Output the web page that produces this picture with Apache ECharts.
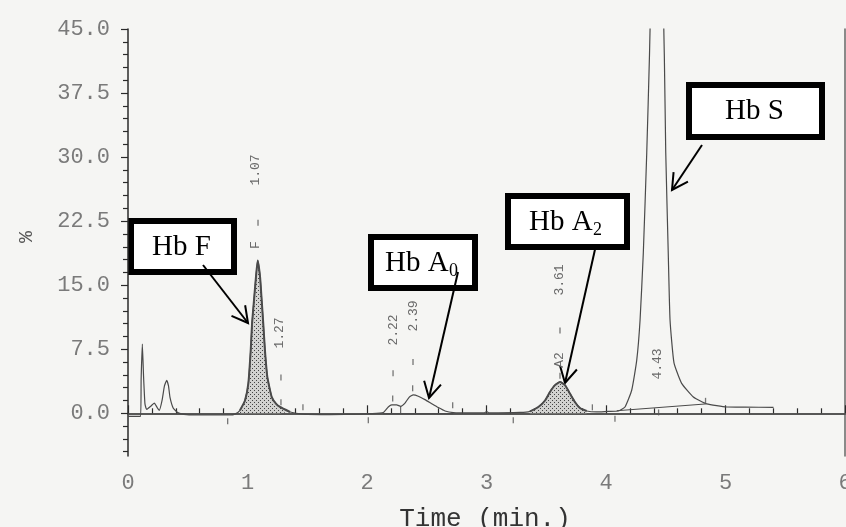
<!DOCTYPE html>
<html>
<head>
<meta charset="utf-8">
<script src="https://cdn.jsdelivr.net/npm/echarts@6/dist/echarts.min.js"></script>
<style>
  html, body { margin: 0; padding: 0; background: #f5f5f3; }
  #chart { width: 846px; height: 527px; }
</style>
</head>
<body>
<div id="chart"></div>
<script>
// 色谱曲线数据
const timeMin = [
  0.000, 0.105, 0.110, 0.120, 0.130, 0.142, 0.156, 0.188, 0.220, 0.243,
  0.262, 0.285, 0.305, 0.324, 0.339, 0.351, 0.379, 0.421, 0.491, 0.603,
  0.854, 0.895, 0.937, 0.979, 1.007, 1.027, 1.038, 1.054, 1.071, 1.085,
  1.105, 1.119, 1.132, 1.146, 1.166, 1.203, 1.240, 1.272, 1.356, 1.467,
  1.690, 1.940, 2.025, 2.136, 2.178, 2.207, 2.248, 2.282, 2.318, 2.354,
  2.387, 2.429, 2.485, 2.541, 2.597, 2.653, 2.722, 2.862, 2.979, 3.002,
  3.021, 3.280, 3.364, 3.434, 3.490, 3.531, 3.573, 3.615, 3.657, 3.699,
  3.741, 3.782, 3.838, 3.922, 4.017, 4.103, 4.159, 4.215, 4.257, 4.285,
  4.312, 4.341, 4.364, 4.427, 4.488, 4.500, 4.521, 4.536, 4.569, 4.633,
  4.731, 4.843, 5.010, 5.163, 5.402
];
const signalPct = [
  -0.35, -0.35, 4.0, 8.1, 4.4, 1.1, 0.45, 0.8, 1.2, 0.7,
  0.35, 1.5, 3.2, 3.87, 3.2, 1.9, 0.6, 0.05, -0.15, -0.2,
  -0.2, -0.1, 0.35, 1.5, 3.5, 7.4, 10.5, 13.2, 16.0, 17.9,
  16.0, 13.2, 10.5, 7.4, 4.25, 1.9, 1.1, 0.74, 0.15, -0.1,
  -0.15, -0.1, -0.04, 0.08, 0.74, 0.98, 0.98, 0.82, 1.2, 1.9,
  2.15, 2.0, 1.6, 1.13, 0.67, 0.27, 0.08, 0.04, 0.05, 0.2,
  0.05, 0.1, 0.23, 0.74, 1.5, 2.5, 3.3, 3.67, 3.3, 2.3,
  1.3, 0.62, 0.27, 0.16, 0.23, 0.27, 0.74, 2.7, 6.2, 10.9,
  18.7, 30.5, 42, 80, 42, 30.5, 18.7, 10.9, 5.9, 3.5,
  1.9, 1.1, 0.74, 0.72, 0.7
];

// 阴影积分峰范围（Hb F, Hb A2）
const shadedRanges = [[0.93, 1.41], [3.36, 3.86]];

// 积分基线
const baselineA0 = [[2.136, -0.05], [2.722, -0.05]];
const dropA0 = [[2.282, -0.05], [2.282, 0.82]];
const baselineS = [[4.09, 0.3], [4.84, 1.1]];

// 积分起止标记
const markTimes = [1.088, 1.28, 1.28, 1.464, 2.218, 2.215, 2.385, 2.382, 2.717, 3.615, 3.615, 3.886, 4.833,
                   0.834, 2.011, 3.224, 4.075, 4.44];
const markValues = [22.3, 4.2, 1.3, 0.7, 4.7, 1.72, 6.0, 2.93, 0.94, 9.7, 4.4, 0.7, 1.46,
                    -0.94, -0.8, -0.8, -0.65, 0.1];

// 保留时间标签
const peakTags = ['1.07', 'F', '1.27', '2.22', '2.39', '3.61', 'A2', '4.43'];
const peakTagTimes = [1.07, 1.07, 1.27, 2.22, 2.39, 3.61, 3.61, 4.43];

// 坐标轴刻度
const yMajorTicks = [0, 7.5, 15, 22.5, 30, 37.5, 45];
const yMinorTicks = [-4.5, -3, -1.5, 1.5, 3, 4.5, 6, 9, 10.5, 12, 13.5, 16.5, 18, 19.5, 21,
                     24, 25.5, 27, 28.5, 31.5, 33, 34.5, 36, 39, 40.5, 42, 43.5];

const points = timeMin.map((t, i) => [t, signalPct[i]]);
const markPoints = markTimes.map((t, i) => [t, markValues[i]]);

// 点状填充图案
const dots = document.createElement('canvas');
dots.width = 4; dots.height = 4;
const dctx = dots.getContext('2d');
dctx.fillStyle = '#d2d2d0';
dctx.fillRect(0, 0, 4, 4);
dctx.fillStyle = '#444';
dctx.fillRect(0, 0, 1, 1);
dctx.fillRect(2, 2, 1, 1);

const monoFont = '"Liberation Mono", "DejaVu Sans Mono", monospace';
const serifFont = '"Liberation Serif", "Times New Roman", serif';
const curveColor = '#4a4a4a';
const gridRect = { left: 128, right: 1, top: 29, bottom: 71, outerBoundsMode: 'none', containLabel: false };

const chart = echarts.init(document.getElementById('chart'));

const shadedSeries = shadedRanges.map(r => ({
  type: 'line',
  xAxisIndex: 0, yAxisIndex: 0,
  data: points.filter(p => p[0] >= r[0] && p[0] <= r[1]),
  showSymbol: false,
  smooth: 0.15,
  lineStyle: { color: '#505050', width: 2 },
  areaStyle: { color: { image: dots, repeat: 'repeat' }, opacity: 1, origin: 'auto' },
  silent: true,
  z: 2
}));

function segment(data) {
  return {
    type: 'line', xAxisIndex: 0, yAxisIndex: 0, data: data,
    showSymbol: false, lineStyle: { color: curveColor, width: 1 }, silent: true, z: 3
  };
}

chart.setOption({
  backgroundColor: '#f5f5f3',
  animation: false,
  grid: [Object.assign({}, gridRect), Object.assign({}, gridRect)],
  xAxis: [
    {
      gridIndex: 0, type: 'value', min: 0, max: 6, interval: 1, position: 'bottom',
      axisLine: { lineStyle: { color: '#2a2a2a', width: 1.5 } },
      axisTick: { inside: true, length: 8, lineStyle: { color: '#2a2a2a', width: 1.2 } },
      minorTick: { show: true, splitNumber: 5, length: 5, lineStyle: { color: '#2a2a2a', width: 1.2 } },
      axisLabel: { color: '#7a7a7a', fontFamily: monoFont, fontSize: 22, margin: 16 },
      splitLine: { show: false }
    },
    {
      gridIndex: 1, type: 'value', min: 0, max: 6, position: 'top',
      axisLine: { lineStyle: { color: '#555', width: 1.5 } },
      axisTick: { show: false }, axisLabel: { show: false }, splitLine: { show: false }
    }
  ],
  yAxis: [
    {
      gridIndex: 0, type: 'value', min: -5, max: 45, position: 'left',
      axisLine: { show: true, lineStyle: { color: '#2a2a2a', width: 1.5 } },
      axisTick: { show: true, length: 7, customValues: yMajorTicks, lineStyle: { color: '#2a2a2a', width: 1.2 } },
      axisLabel: {
        customValues: yMajorTicks, color: '#7a7a7a', fontFamily: monoFont, fontSize: 22, margin: 18,
        formatter: v => v.toFixed(1)
      },
      splitLine: { show: false }
    },
    {
      gridIndex: 1, type: 'value', min: -5, max: 45, position: 'left',
      axisLine: { show: false },
      axisTick: { show: true, length: 5, customValues: yMinorTicks, lineStyle: { color: '#2a2a2a', width: 1.2 } },
      axisLabel: { show: false }, splitLine: { show: false }
    },
    {
      gridIndex: 1, type: 'value', min: -5, max: 45, position: 'right',
      axisLine: { show: true, lineStyle: { color: '#666', width: 1.5 } },
      axisTick: { show: false }, axisLabel: { show: false }, splitLine: { show: false }
    }
  ],
  series: shadedSeries.concat([
    {
      type: 'line',
      xAxisIndex: 0, yAxisIndex: 0,
      data: points,
      showSymbol: false,
      smooth: 0.15,
      lineStyle: { color: curveColor, width: 1.2 },
      silent: true,
      z: 4
    },
    segment(baselineA0),
    segment(dropA0),
    segment(baselineS),
    {
      type: 'scatter',
      xAxisIndex: 0, yAxisIndex: 0,
      data: markPoints,
      symbol: 'rect',
      symbolSize: [1.3, 6],
      itemStyle: { color: '#555' },
      silent: true,
      z: 5
    }
  ])
});

// 标注：箭头、方框、文字
function arrow(x1, y1, x2, y2) {
  const a = Math.atan2(y2 - y1, x2 - x1), len = 18, spread = 0.5;
  return {
    type: 'group',
    children: [
      { type: 'line', shape: { x1: x1, y1: y1, x2: x2, y2: y2 }, style: { stroke: '#000', lineWidth: 2 } },
      {
        type: 'polyline',
        shape: {
          points: [
            [x2 - len * Math.cos(a - spread), y2 - len * Math.sin(a - spread)],
            [x2, y2],
            [x2 - len * Math.cos(a + spread), y2 - len * Math.sin(a + spread)]
          ]
        },
        style: { stroke: '#000', lineWidth: 2, fill: null }
      }
    ]
  };
}

function box(x, y, w, h) {
  return { type: 'rect', shape: { x: x, y: y, width: w, height: h }, style: { fill: '#fff', stroke: '#000', lineWidth: 6 } };
}

// x 为文字左端，y 为文字垂直中心
function serifText(text, x, y, size) {
  return {
    type: 'text', x: x, y: y,
    style: { text: text, fontFamily: serifFont, fontSize: size, fill: '#000', align: 'left', verticalAlign: 'middle' }
  };
}

const tagY = [170, 245, 333, 330, 316, 280, 360, 364];
const tagGraphics = peakTags.map((tag, i) => {
  const px = chart.convertToPixel({ xAxisIndex: 0, yAxisIndex: 0 }, [peakTagTimes[i], 0])[0];
  return {
    type: 'text', x: px, y: tagY[i], rotation: Math.PI / 2,
    style: { text: tag, fontFamily: monoFont, fontSize: 13, fill: '#6a6a6a', align: 'center', verticalAlign: 'middle' },
    z: 10
  };
});

chart.setOption({
  graphic: tagGraphics.concat([
    box(131, 221, 103, 51),
    serifText('Hb F', 152, 247, 29),
    arrow(203, 265, 248, 323),

    box(371, 237, 104, 51),
    serifText('Hb A', 385, 263, 29),
    serifText('0', 449, 271, 18),
    arrow(458, 272, 429, 398),

    box(508, 196, 119, 51),
    serifText('Hb A', 529, 222, 29),
    serifText('2', 593, 230, 18),
    arrow(596, 245, 565, 383),

    box(689, 85, 133, 52),
    serifText('Hb S', 725, 111, 29),
    arrow(702, 145, 672, 190),

    {
      type: 'text', x: 485, y: 519,
      style: { text: 'Time (min.)', fontFamily: monoFont, fontSize: 26, fill: '#333', align: 'center', verticalAlign: 'middle' }
    },
    {
      type: 'text', x: 27, y: 237, rotation: Math.PI / 2,
      style: { text: '%', fontFamily: monoFont, fontSize: 20, fill: '#555', align: 'center', verticalAlign: 'middle' }
    }
  ])
});

window.addEventListener('resize', function() {
  chart.resize();
});
</script>
</body>
</html>
